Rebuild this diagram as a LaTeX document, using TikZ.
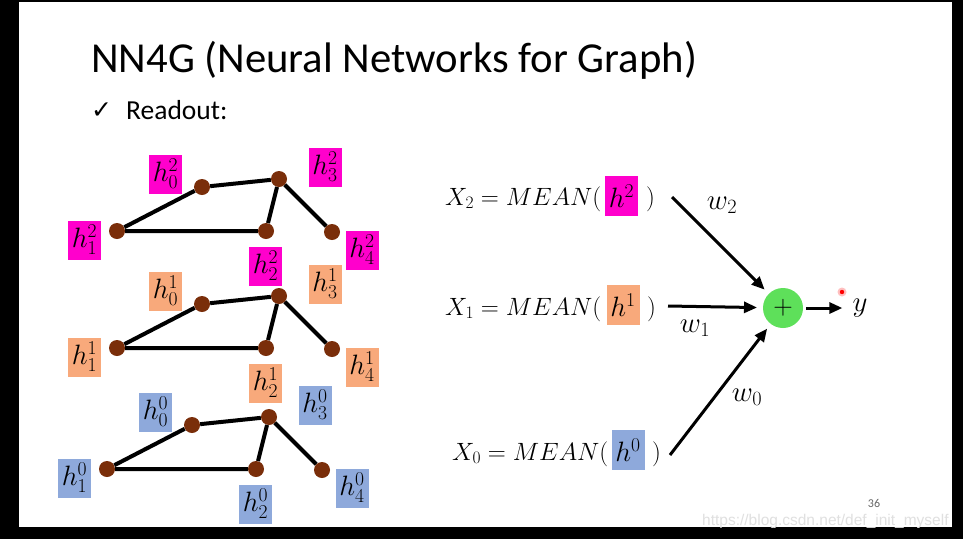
\RequirePackage{fix-cm}
\documentclass[tikz,border=0pt]{standalone}
\usepackage{fontspec}
\setmainfont{Carlito}
\newfontfamily\symfont{DejaVu Sans}
\newfontfamily\wmfont{Liberation Sans}
\usetikzlibrary{arrows.meta,positioning}
\definecolor{hmag}{RGB}{255,0,204}
\definecolor{horange}{RGB}{248,169,123}
\definecolor{hblue}{RGB}{142,169,219}
\definecolor{nodebrown}{RGB}{122,46,10}
\definecolor{sumgreen}{RGB}{94,224,90}

\begin{document}
\begin{tikzpicture}[x=1pt,y=-1pt,
    vtx/.style={circle,fill=nodebrown,inner sep=0pt,minimum size=16pt},
    edge/.style={line width=4pt},
    hlab/.style={fill=#1,inner sep=0pt,minimum width=33pt,minimum height=39pt,font=\fontsize{28}{32}\selectfont},
    eq/.style={anchor=base west,inner sep=0pt,font=\fontsize{25}{30}\selectfont},
    wlab/.style={font=\fontsize{29}{32}\selectfont},
    arr/.style={-{Triangle[length=13pt,width=11pt]},line width=3pt}]
    \fill[black] (0,0) rectangle (963,539);
    \fill[white] (19,2) rectangle (952,527);
    \node[anchor=base west,inner sep=0pt,font=\fontsize{42.7}{50}\selectfont] (title) at (91,72) {NN4G (Neural Networks for Graph)};
    \node[anchor=base west,inner sep=0pt,font=\symfont\fontsize{25}{28}\selectfont] (tick) at (91,118) {✓};
    \node[anchor=base west,inner sep=0pt,font=\fontsize{27.5}{32}\selectfont] (readout) at (126,119) {Readout:};
    % three graphs, one per layer
    \foreach \l/\dx/\dy/\c in {2/0/0/hmag,1/0/117/horange,0/-10/238/hblue}{
      \begin{scope}[shift={(\dx,\dy)}]
        \node[vtx] (v\l0) at (202,187) {};
        \node[vtx] (v\l1) at (117,231) {};
        \node[vtx] (v\l2) at (266,231) {};
        \node[vtx] (v\l3) at (279,179) {};
        \node[vtx] (v\l4) at (332,232) {};
        \node[hlab=\c] (h\l0) at (165.5,174) {$h^{\l}_0$};
        \node[hlab=\c] (h\l1) at (84.5,240) {$h^{\l}_1$};
        \node[hlab=\c] (h\l2) at (265.5,266) {$h^{\l}_2$};
        \node[hlab=\c] (h\l3) at (325,167) {$h^{\l}_3$};
        \node[hlab=\c] (h\l4) at (362,250) {$h^{\l}_4$};
      \end{scope}
      \draw[edge] (v\l1) -- (v\l0) -- (v\l3) -- (v\l2) -- (v\l1);
      \draw[edge] (v\l3) -- (v\l4);
    }
    % readout
    \node[eq] (x2) at (445,205) {$X_2 = MEAN($};
    \node[hlab=hmag,minimum height=40pt] (m2) at (621.5,196) {$h^2$};
    \node[eq] (c2) at (646,205) {$)$};
    \node[eq] (x1) at (445,315) {$X_1 = MEAN($};
    \node[hlab=horange,minimum height=40pt] (m1) at (623,305) {$h^1$};
    \node[eq] (c1) at (647,315) {$)$};
    \node[eq] (x0) at (452,460) {$X_0 = MEAN($};
    \node[hlab=hblue,minimum height=40pt] (m0) at (628,450) {$h^0$};
    \node[eq] (c0) at (652,460) {$)$};
    \node[circle,fill=sumgreen,minimum size=40pt,inner sep=0pt,outer sep=6pt,font=\fontsize{27}{27}\selectfont] (sum) at (783,308) {$+$};
    \node[wlab,inner sep=2pt] (yout) at (860,308) {$y$};
    \coordinate (s2) at (672,197);
    \coordinate (s1) at (668,306);
    \coordinate (s0) at (670,455);
    \draw[arr] (s2) -- (sum);
    \draw[arr] (s1) -- (sum);
    \draw[arr] (s0) -- (sum);
    \draw[arr,shorten <=-3pt,shorten >=8pt] (sum) -- (yout);
    \node[wlab] (w2) at (722,205) {$w_2$};
    \node[wlab] (w1) at (695,328) {$w_1$};
    \node[wlab] (w0) at (747,397) {$w_0$};
    % laser dot
    \fill[red!25] (842,292) circle (4.5);
    \fill[red] (842,292) circle (2.2);
    \node[text=black!60,font=\fontsize{12}{12}\selectfont] (page) at (874,503) {36};
    \begin{scope}
      \clip (19,2) rectangle (952,527);
      \node[anchor=base west,inner sep=0pt,text=black!12,font=\wmfont\fontsize{15.5}{16}\selectfont] (wm) at (702,525) {https://blog.csdn.net/def\_init\_myself};
    \end{scope}
\end{tikzpicture}
\end{document}
